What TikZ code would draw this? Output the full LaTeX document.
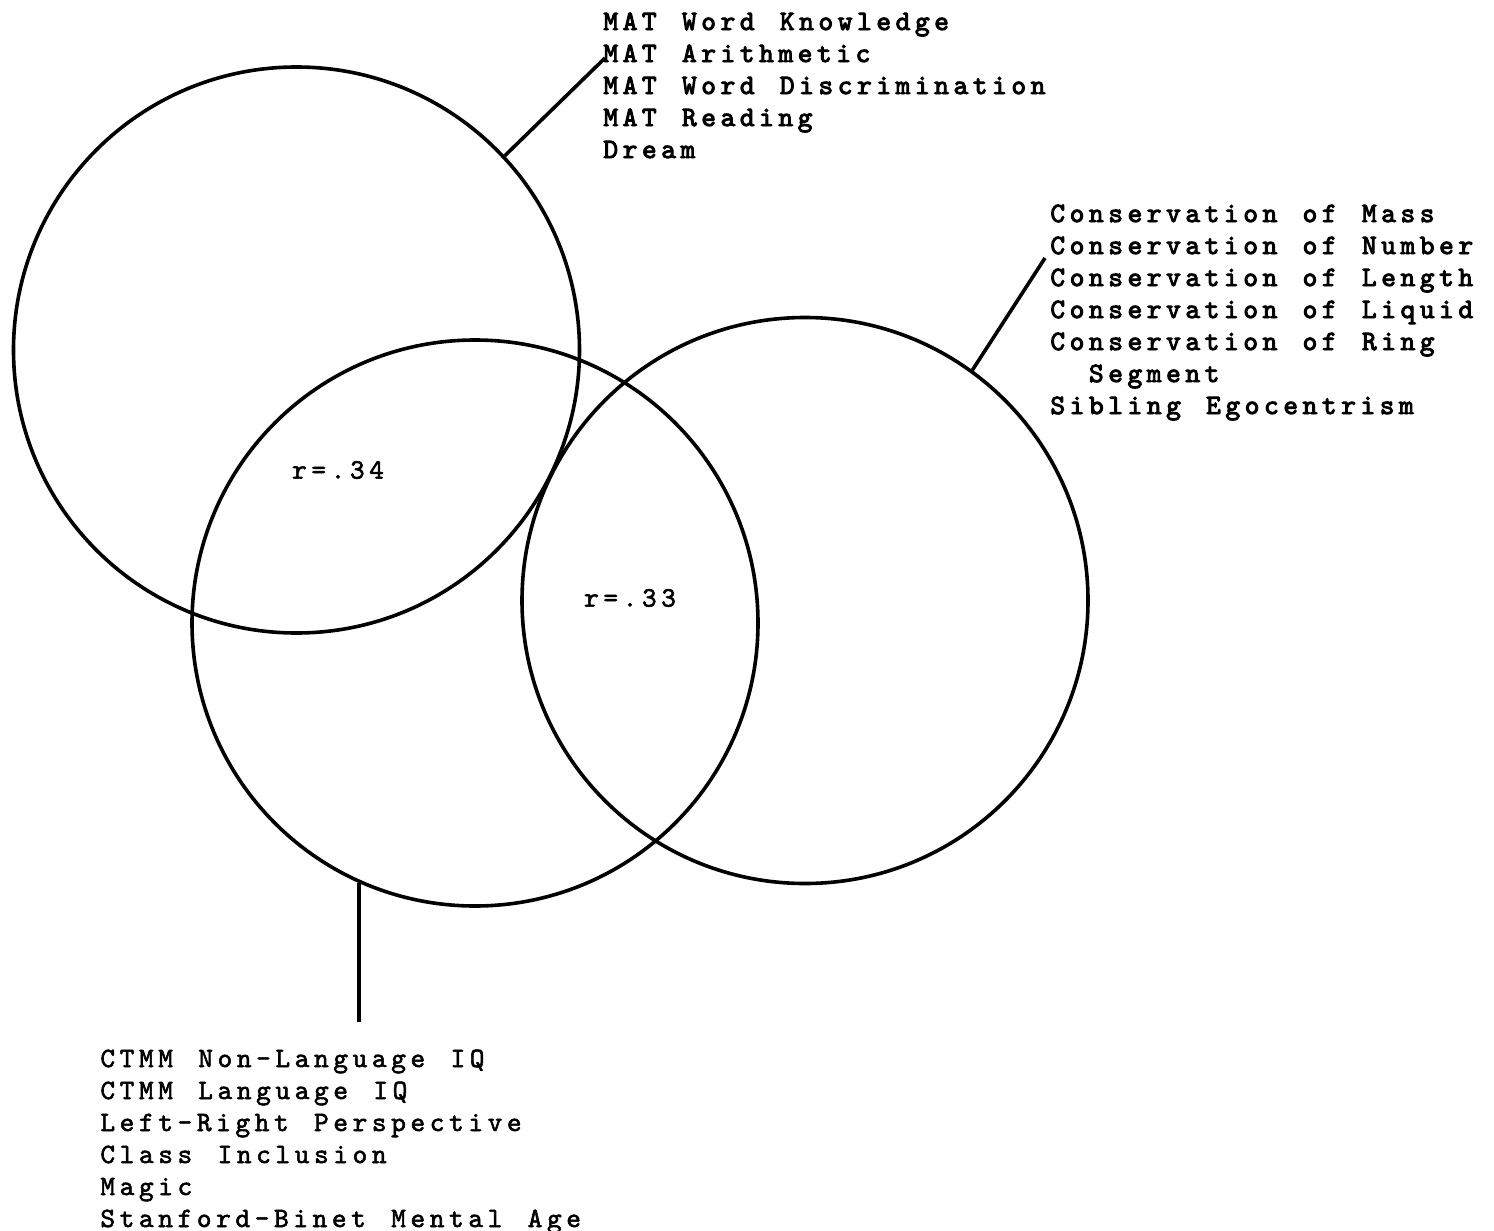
\documentclass[tikz,border=0pt]{standalone}
\usepackage{fontspec}
\newfontfamily\twb[LetterSpace=16.4,WordSpace=1.313,FakeBold=3.5]{lmmono10-regular.otf}
\newfontfamily\twr[LetterSpace=16.4,WordSpace=1.313,FakeBold=2]{lmmono10-regular.otf}
\begin{document}
\begin{tikzpicture}[x=0.5pt,y=-0.5pt,
  ring/.style={circle, draw, line width=1.8pt, minimum size=283pt, inner sep=0pt},
  lead/.style={line width=1.8pt},
  lst/.style={anchor=base west, inner sep=0pt, align=left, font=\twb\fontsize{14}{16}\selectfont},
  lstr/.style={lst, font=\twr\fontsize{14}{16}\selectfont},
  rlab/.style={inner sep=0pt, font=\twr\fontsize{14}{16}\selectfont}]
\useasboundingbox (0,0) rectangle (1494,1231);
\node[ring] (c1) at (296.5,350) {};
\node[ring] (c2) at (475,623) {};
\node[ring] (c3) at (805,600.5) {};
\node[rlab] (r1) at (338,470) {r=.34};
\node[rlab] (r2) at (630,598) {r=.33};
\node[lst] (t1) at (603,158) {MAT Word Knowledge\\MAT Arithmetic\\MAT Word Discrimination\\MAT Reading\\Dream};
\node[lst] (t3) at (1050,414) {Conservation of Mass\\Conservation of Number\\Conservation of Length\\Conservation of Liquid\\Conservation of Ring\\\hspace*{19.3pt}Segment\\Sibling Egocentrism};
\node[lstr] (t2) at (100,1227) {CTMM Non-Language IQ\\CTMM Language IQ\\Left-Right Perspective\\Class Inclusion\\Magic\\Stanford-Binet Mental Age};
\coordinate (e1) at (605,58);
\coordinate (e3) at (1045,258);
\coordinate (e2) at (361.5,1022);
\draw[lead] (c1.43.7) -- (e1);
\draw[lead] (c3.54.3) -- (e3);
\draw[lead] (c2.246.3) -- (c2.246.3 |- e2);
\end{tikzpicture}
\end{document}
